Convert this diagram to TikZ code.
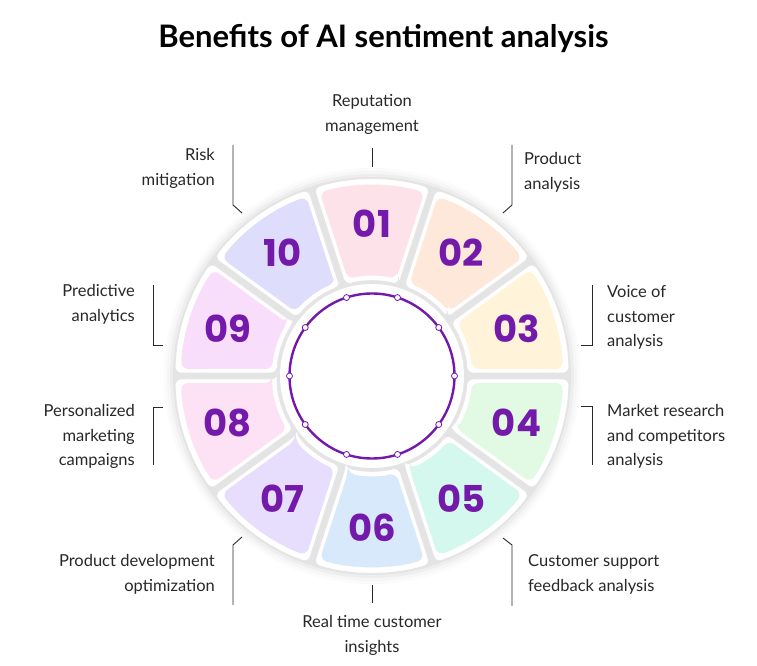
\documentclass[tikz,border=0pt]{standalone}
\usepackage{fontspec}
\setmainfont{Lato}
\newfontfamily\numfont{Poppins}
\usetikzlibrary{calc}

\definecolor{ink}{RGB}{40,40,40}
\definecolor{violet}{RGB}{116,26,170}
\definecolor{p01}{RGB}{253,226,234}
\definecolor{p02}{RGB}{253,232,218}
\definecolor{p03}{RGB}{255,244,218}
\definecolor{p04}{RGB}{226,250,228}
\definecolor{p05}{RGB}{212,248,238}
\definecolor{p06}{RGB}{216,233,252}
\definecolor{p07}{RGB}{230,222,252}
\definecolor{p08}{RGB}{252,226,244}
\definecolor{p09}{RGB}{248,222,250}
\definecolor{p10}{RGB}{222,222,252}

\begin{document}
\begin{tikzpicture}[
  x = 1pt, y = 1pt,
  every node/.style = {inner sep=0pt},
  heading/.style = {font=\bfseries\fontsize{31}{31}\selectfont, anchor=base, text=black},
  lbl/.style     = {font=\fontsize{16.5}{24.5}\selectfont, text=ink},
  lblL/.style    = {lbl, anchor=base west, align=left},
  lblR/.style    = {lbl, anchor=base east, align=right},
  lblC/.style    = {lbl, anchor=base, align=center},
  tile/.style    = {fill=white, draw=black!10, line width=0.8pt, rounded corners=6pt},
  petal/.style   = {rounded corners=7pt},
  num/.style     = {font=\numfont\bfseries\fontsize{37}{37}\selectfont, text=violet},
  ring/.style    = {draw=violet, line width=2.4pt},
  dot/.style     = {draw=violet, fill=white, line width=0.8pt},
  leader/.style  = {draw=ink, line width=0.9pt}
]
\useasboundingbox (0,0) rectangle (757,666);
\fill[white] (0,0) rectangle (757,666);

\node[heading] (title) at (383.5,618) {Benefits of AI sentiment analysis};

\coordinate (c) at (372,290);

% soft shadow under the wheel
\foreach \r/\o in {208/0.015, 205/0.02, 202/0.03, 199/0.04}
  \fill[black, opacity=\o] (c) circle[radius=\r];

% ---- the ten petals ----------------------------------------------------
\foreach \i/\txt/\col in {1/01/p01, 2/02/p02, 3/03/p03, 4/04/p04, 5/05/p05,
                          6/06/p06, 7/07/p07, 8/08/p08, 9/09/p09, 10/10/p10} {
  \pgfmathsetmacro\t{126-36*\i}
  % white tile behind
  \pgfmathsetmacro\ta{\t-18+asin(3/95)}
  \pgfmathsetmacro\tb{\t-18+asin(3/197)}
  \pgfmathsetmacro\tc{\t+18-asin(3/197)}
  \pgfmathsetmacro\td{\t+18-asin(3/95)}
  \draw[tile] ($(c)+(\ta:95)$) -- ($(c)+(\tb:197)$)
    arc[start angle=\tb, end angle=\tc, radius=197]
    -- ($(c)+(\td:95)$) arc[start angle=\td, end angle=\ta, radius=95] -- cycle;
  % coloured petal
  \pgfmathsetmacro\ta{\t-18+asin(7/100)}
  \pgfmathsetmacro\tb{\t-18+asin(7/191)}
  \pgfmathsetmacro\tc{\t+18-asin(7/191)}
  \pgfmathsetmacro\td{\t+18-asin(7/100)}
  \fill[petal, \col] ($(c)+(\ta:100)$) -- ($(c)+(\tb:191)$)
    arc[start angle=\tb, end angle=\tc, radius=191]
    -- ($(c)+(\td:100)$) arc[start angle=\td, end angle=\ta, radius=100] -- cycle;
  \node[num] (n\i) at ($(c)+(\t:152)$) {\txt};
}

% ---- centre ring with dots ---------------------------------------------
\fill[white] (c) circle[radius=92];
\draw[ring] (c) circle[radius=82.5];
\foreach \a in {0,36,...,324}
  \draw[dot] ($(c)+(\a:82.5)$) circle[radius=3];

% ---- labels (anchored on the last line) --------------------------------
\node[lblC] (l01) at (372,534.5) {Reputation\\management};
\node[lblL] (l02) at (524,476.5) {Product\\analysis};
\node[lblL] (l03) at (607,319)   {Voice of\\customer\\analysis};
\node[lblL] (l04) at (607,200)   {Market research\\and competitors\\analysis};
\node[lblL] (l05) at (528,74.5)  {Customer support\\feedback analysis};
\node[lblC] (l06) at (372,13.5)  {Real time customer\\insights};
\node[lblR] (l07) at (215,74.5)  {Product development\\optimization};
\node[lblR] (l08) at (135,200)   {Personalized\\marketing\\campaigns};
\node[lblR] (l09) at (135,344.5) {Predictive\\analytics};
\node[lblR] (l10) at (215,480.5) {Risk\\mitigation};

% ---- leaders -----------------------------------------------------------
\coordinate (t01) at (372,499);
\coordinate (t02) at (503,453);
\coordinate (t03) at (581,321);
\coordinate (t04) at (581,260);
\coordinate (t05) at (503,128);
\coordinate (t06) at (372,81);
\coordinate (t07) at (242,129);
\coordinate (t08) at (163,259);
\coordinate (t09) at (163,321);
\coordinate (t10) at (242,453);

\draw[leader] (t01) -- ++(0,19);
\draw[leader] (t02) -- ++(9,8) -- ++(0,60);
\draw[leader] (t03) -- ++(11,0) -- ++(0,60);
\draw[leader] (t04) -- ++(11,0) -- ++(0,-59);
\draw[leader] (t05) -- ++(9,-7) -- ++(0,-61);
\draw[leader] (t06) -- ++(0,-18);
\draw[leader] (t07) -- ++(-9,-8) -- ++(0,-60);
\draw[leader] (t08) -- ++(-10,0) -- ++(0,-58);
\draw[leader] (t09) -- ++(-10,0) -- ++(0,60);
\draw[leader] (t10) -- ++(-9,8) -- ++(0,60);

\end{tikzpicture}
\end{document}
